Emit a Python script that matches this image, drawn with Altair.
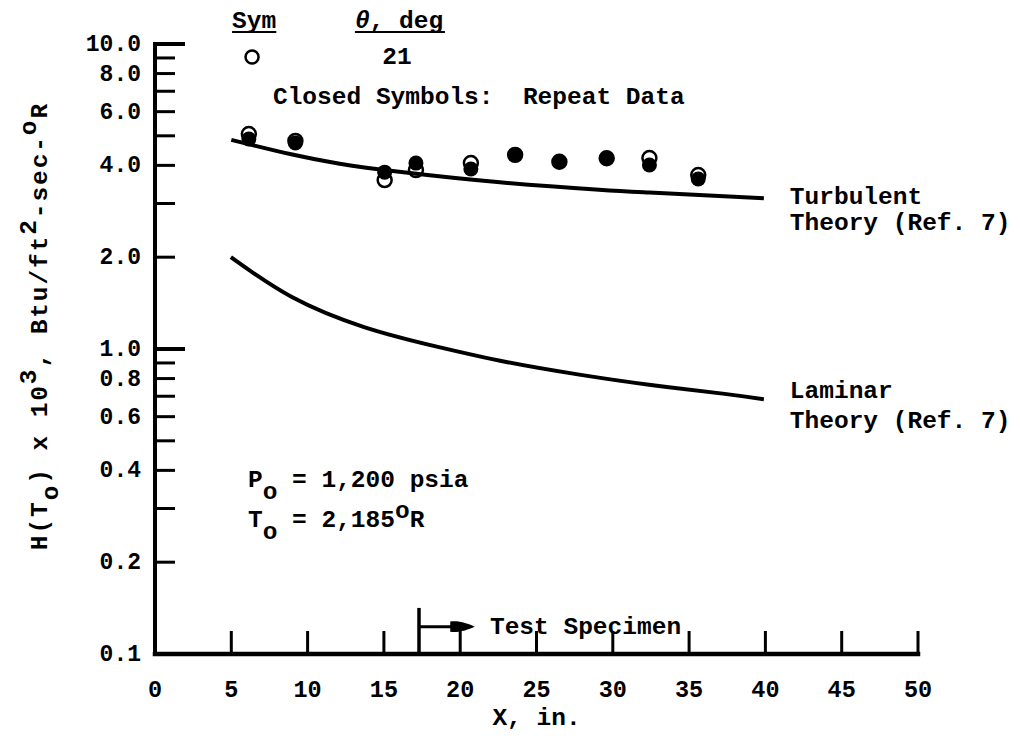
import altair as alt
import pandas as pd

# ---------------- data ----------------
turb_x = [5.0, 9.0, 12.1, 16.0, 22.6, 29.1, 32.4, 39.9]
turb_y = [4.85, 4.34, 4.05, 3.81, 3.52, 3.33, 3.26, 3.12]

lam_x = [4.97, 8.97, 13.7, 18.4, 23.1, 27.8, 32.5, 37.2, 39.9]
lam_y = [2.00, 1.48, 1.18, 1.02, 0.905, 0.824, 0.762, 0.714, 0.684]

pt_x = [6.15, 9.2, 15.05, 17.1, 20.7, 23.6, 26.5, 29.6, 32.4, 35.6]
open_y = [5.07, 4.81, 3.58, 3.86, 4.07, 4.33, 4.11, 4.22, 4.23, 3.72]
closed_y = [4.88, 4.74, 3.80, 4.07, 3.89, 4.33, 4.11, 4.22, 4.01, 3.61]

x_tick_labels = [0, 5, 10, 15, 20, 25, 30, 35, 40, 45, 50]
x_ticks = [5, 10, 15, 20, 25, 30, 35, 40, 45, 50]
y_tick_labels = [0.1, 0.2, 0.4, 0.6, 0.8, 1.0, 2.0, 4.0, 6.0, 8.0, 10.0]
y_ticks_minor = [9, 8, 7, 6, 5, 4, 3, 2, 0.9, 0.8, 0.7, 0.6, 0.5, 0.4, 0.3, 0.2]
y_ticks_major = [10, 1.0]

# ---------------- styling ----------------
FONT = "Liberation Mono"
FS = 24.5
PITCH = 0.6 * FS
W, H = 763, 610
NB = "\u00a0"

XS = alt.Scale(domain=[0, 50], nice=False, zero=False)
YS = alt.Scale(type="log", domain=[0.1, 10], nice=False)

one = pd.DataFrame({"a": [0]})


def XD(v):
    return alt.XDatum(v, scale=XS, axis=None, type="quantitative")


def YD(v):
    return alt.YDatum(v, scale=YS, axis=None, type="quantitative")


def txt(s, x, y, size=FS, align="left", dx=0, dy=0, angle=None, style="normal"):
    s = s.replace(" ", NB)
    mk = dict(text=s, font=FONT, fontSize=size, fontWeight="bold", align=align,
              baseline="middle", dx=dx, dy=dy, color="black", fontStyle=style)
    if angle is not None:
        mk["angle"] = angle
    return alt.Chart(one).mark_text(**mk).encode(x=XD(x), y=YD(y))


# ---------------- layers ----------------
turb_df = pd.DataFrame({"x": turb_x, "y": turb_y})
lam_df = pd.DataFrame({"x": lam_x, "y": lam_y})
pts_df = pd.DataFrame({"x": pt_x, "open": open_y, "closed": closed_y})

turb = alt.Chart(turb_df).mark_line(color="black", strokeWidth=4, interpolate="natural").encode(
    x=alt.X("x:Q", scale=XS, axis=None),
    y=alt.Y("y:Q", scale=YS, axis=None),
)
lam = alt.Chart(lam_df).mark_line(color="black", strokeWidth=4, interpolate="natural").encode(
    x=alt.X("x:Q", scale=XS, axis=None),
    y=alt.Y("y:Q", scale=YS, axis=None),
)
closed = alt.Chart(pts_df).mark_point(shape="circle", filled=True, size=225, color="black", opacity=1).encode(
    x=alt.X("x:Q", scale=XS, axis=None),
    y=alt.Y("closed:Q", scale=YS, axis=None),
)
opened = alt.Chart(pts_df).mark_point(shape="circle", filled=False, size=195, color="black",
                                      strokeWidth=2.5, opacity=1).encode(
    x=alt.X("x:Q", scale=XS, axis=None),
    y=alt.Y("open:Q", scale=YS, axis=None),
)

# axis lines
x_dom = alt.Chart(one).mark_rule(color="black", strokeWidth=4.5, strokeCap="square").encode(
    x=XD(0), x2=alt.datum(50), y=YD(0.1))
y_dom = alt.Chart(one).mark_rule(color="black", strokeWidth=4, strokeCap="square").encode(
    x=XD(0), y=YD(0.1), y2=alt.datum(10))

# ticks (drawn inward)
ytm = alt.Chart(pd.DataFrame({"v": y_ticks_minor})).mark_rule(color="black", strokeWidth=3).encode(
    y=alt.Y("v:Q", scale=YS, axis=None), x=alt.value(0), x2=alt.value(20))
ytM = alt.Chart(pd.DataFrame({"v": y_ticks_major})).mark_rule(color="black", strokeWidth=4).encode(
    y=alt.Y("v:Q", scale=YS, axis=None), x=alt.value(0), x2=alt.value(30))
xt = alt.Chart(pd.DataFrame({"v": x_ticks})).mark_rule(color="black", strokeWidth=3).encode(
    x=alt.X("v:Q", scale=XS, axis=None), y=alt.value(H), y2=alt.value(H - 23))

# tick labels
ylab = alt.Chart(pd.DataFrame({"v": y_tick_labels})).mark_text(
    font=FONT, fontSize=23, fontWeight="bold", align="right", baseline="middle",
    dx=-14, color="black").encode(
    y=alt.Y("v:Q", scale=YS, axis=None), x=alt.value(0),
    text=alt.Text("v:Q", format=".1f"))
xlab = alt.Chart(pd.DataFrame({"v": x_tick_labels})).mark_text(
    font=FONT, fontSize=23.5, fontWeight="bold", align="center", baseline="middle",
    color="black").encode(
    x=alt.X("v:Q", scale=XS, axis=None), y=alt.value(H + 36),
    text=alt.Text("v:Q", format="d"))

# Test specimen marker
spec_x = 17.3
spec_y = 0.1229
spec_v = alt.Chart(one).mark_rule(color="black", strokeWidth=3.5).encode(
    x=XD(spec_x), y=YD(0.1), y2=alt.datum(0.1416))
spec_h = alt.Chart(one).mark_rule(color="black", strokeWidth=3).encode(
    x=XD(spec_x), x2=alt.datum(19.6), y=YD(spec_y))
head_path = "M -1 -0.42 C -0.2 -0.5 0.4 -0.25 1 0 C 0.4 0.25 -0.2 0.5 -1 0.42 Z"
spec_head = alt.Chart(one).mark_point(shape=head_path, filled=True, size=600, color="black", opacity=1).encode(
    x=XD(20.15), y=YD(spec_y))

# legend underlines and symbol
ul1 = alt.Chart(one).mark_rule(color="black", strokeWidth=2).encode(
    x=XD(5.05), x2=alt.datum(7.95), y=YD(10.95))
ul2 = alt.Chart(one).mark_rule(color="black", strokeWidth=2).encode(
    x=XD(13.1), x2=alt.datum(19.0), y=YD(10.95))
leg_sym = alt.Chart(one).mark_point(shape="circle", filled=False, size=170, color="black",
                                    strokeWidth=2.5, opacity=1).encode(x=XD(6.36), y=YD(9.07))

texts = [
    txt("Sym", 5.05, 11.9),
    txt("θ", 13.1, 11.9, style="italic"),
    txt(", deg", 13.1, 11.9, dx=PITCH),
    txt("21", 15.86, 9.07, align="center"),
    txt("Closed Symbols:  Repeat Data", 7.73, 6.70),
    txt("Turbulent", 41.6, 3.15),
    txt("Theory (Ref. 7)", 41.6, 2.59),
    txt("Laminar", 41.6, 0.728),
    txt("Theory (Ref. 7)", 41.6, 0.581),
    # P_o = 1,200 psia
    txt("P", 6.09, 0.372),
    txt("o", 6.09, 0.372, dx=PITCH, dy=12),
    txt("= 1,200 psia", 6.09, 0.372, dx=3 * PITCH),
    # T_o = 2,185 oR
    txt("T", 6.09, 0.275),
    txt("o", 6.09, 0.275, dx=PITCH, dy=12),
    txt("= 2,185", 6.09, 0.275, dx=3 * PITCH),
    txt("o", 6.09, 0.275, dx=10 * PITCH, dy=-9),
    txt("R", 6.09, 0.275, dx=11 * PITCH),
    txt("Test Specimen", 21.95, spec_y),
    txt("X, in.", 25.0, 0.0617, align="center"),
]

# y axis title, typed character by character (rotated); shift -1 = superscript, +1 = subscript
title_chars = "H(To) x 103, Btu/ft2-sec-oR"
title_shift = {3: 1, 10: -1, 19: -1, 25: -1}
TP = 16.6
for i, ch in enumerate(title_chars):
    if ch == " ":
        continue
    texts.append(txt(ch, -7.54, 0.219, angle=270, dx=i * TP, dy=11 * title_shift.get(i, 0)))

chart = alt.layer(
    turb, lam, closed, opened, x_dom, y_dom, ytm, ytM, xt, ylab, xlab,
    spec_v, spec_h, spec_head, ul1, ul2, leg_sym, *texts
).properties(
    width=W, height=H,
    padding={"left": 147, "top": 36, "right": 94, "bottom": 79},
    autosize=alt.AutoSizeParams(type="none"),
    background="white",
).configure_view(stroke=None)

chart.save("out.html", embed_options={"renderer": "svg", "actions": False})
